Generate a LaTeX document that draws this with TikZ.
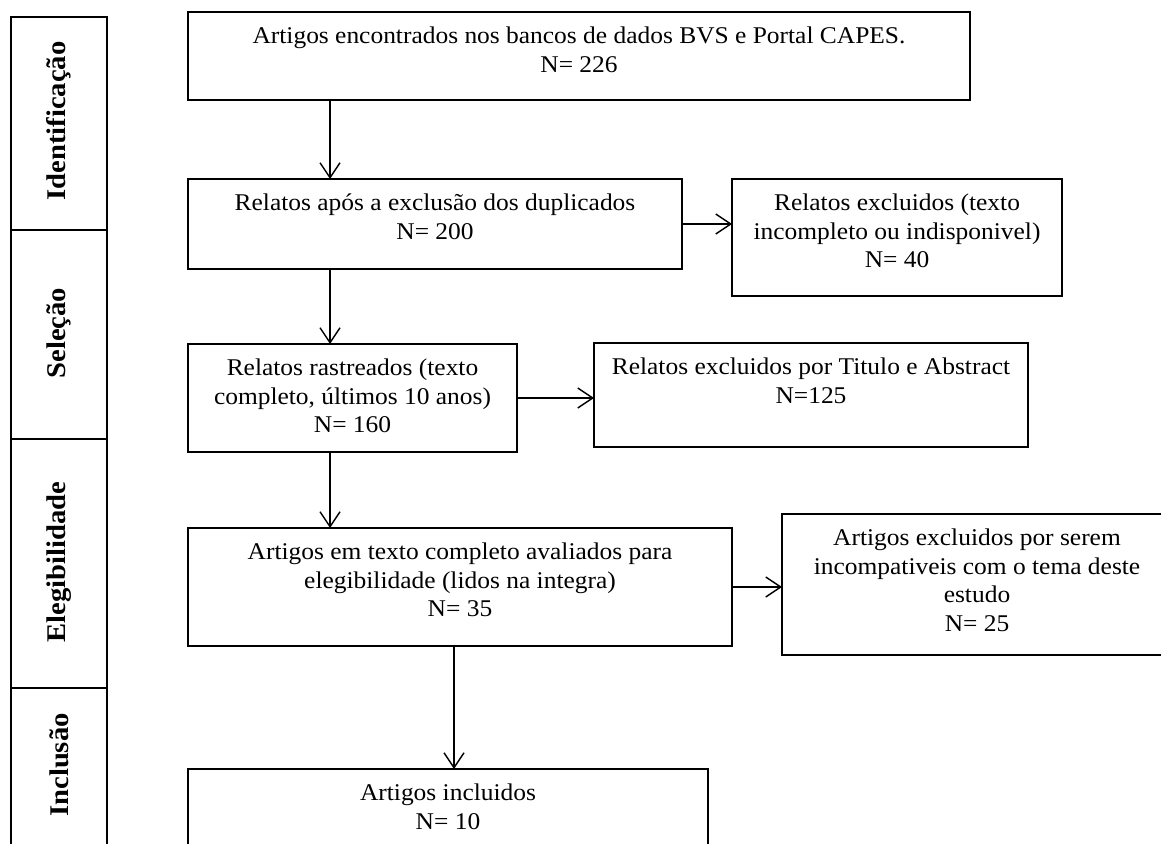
\documentclass[tikz,border=0pt]{standalone}
\usepackage{fontspec}
\setmainfont[FakeStretch=1.06]{Liberation Serif}
\usetikzlibrary{arrows.meta}
\begin{document}
\begin{tikzpicture}[x=1pt,y=-1pt,
  box/.style={draw=black, line width=1.6pt, anchor=north west, inner sep=0pt, outer sep=0pt},
  txt/.style={anchor=north, align=center, inner sep=0pt, font=\fontsize{24}{28.5}\selectfont},
  stagebox/.style={draw=black, line width=1.6pt, anchor=north west, inner sep=0pt, outer sep=0pt, minimum width=96pt},
  stagetxt/.style={rotate=90, inner sep=0pt, font=\fontsize{27}{30}\selectfont\bfseries},
  arr/.style={line width=1.4pt, -{Straight Barb[length=15pt,width=20pt,line width=1.4pt]}}
]
\useasboundingbox (0,0) rectangle (1161,843);
\clip (0,0) rectangle (1161,843);

% stage column
\node[stagebox, minimum height=213pt] (S1) at (11,17) {};
\node[stagebox, minimum height=209pt] (S2) at (11,230) {};
\node[stagebox, minimum height=249pt] (S3) at (11,439) {};
\node[stagebox, minimum height=200pt] (S4) at (11,688) {};
\node[stagetxt] (S1t) at (59,121) {Identificação};
\node[stagetxt] (S2t) at (59,333) {Seleção};
\node[stagetxt] (S3t) at (59,562) {Elegibilidade};
\node[stagetxt] (S4t) at (59,765) {Inclusão};

% boxes
\node[box, minimum width=782pt, minimum height=88pt] (A) at (188,12) {};
\node[box, minimum width=494pt, minimum height=90pt] (B) at (188,179) {};
\node[box, minimum width=330pt, minimum height=117pt] (C) at (732,179) {};
\node[box, minimum width=329pt, minimum height=108pt] (D) at (188,344) {};
\node[box, minimum width=434pt, minimum height=104pt] (E) at (594,343) {};
\node[box, minimum width=544pt, minimum height=118pt] (F) at (188,528) {};
\node[box, minimum width=390pt, minimum height=141pt] (G) at (782,514) {};
\node[box, minimum width=520pt, minimum height=120pt] (H) at (188,769) {};

% texts
\node[txt] (At) at ([yshift=-15pt]A.north) {Artigos encontrados nos bancos de dados BVS e Portal CAPES.\\N= 226};
\node[txt] (Bt) at ([yshift=-15pt]B.north) {Relatos após a exclusão dos duplicados\\N= 200};
\node[txt] (Ct) at ([yshift=-15pt]C.north) {Relatos excluidos (texto\\incompleto ou indisponivel)\\N= 40};
\node[txt] (Dt) at ([yshift=-15pt]D.north) {Relatos rastreados (texto\\completo, últimos 10 anos)\\N= 160};
\node[txt] (Et) at ([yshift=-15pt]E.north) {Relatos excluidos por Titulo e Abstract\\N=125};
\node[txt] (Ft) at ([yshift=-15pt]F.north) {Artigos em texto completo avaliados para\\elegibilidade (lidos na integra)\\N= 35};
\node[txt] (Gt) at ([yshift=-15pt]G.north) {Artigos excluidos por serem\\incompativeis com o tema deste\\estudo\\N= 25};
\node[txt] (Ht) at ([yshift=-15pt]H.north) {Artigos incluidos\\N= 10};

% connectors
\draw[arr] ([xshift=142pt]A.south west) -- ([xshift=142pt]B.north west);
\draw[arr] (B.east) -- (B.east -| C.west);
\draw[arr] ([xshift=142pt]B.south west) -- ([xshift=142pt]D.north west);
\draw[arr] (D.east) -- (D.east -| E.west);
\draw[arr] ([xshift=142pt]D.south west) -- ([xshift=142pt]F.north west);
\draw[arr] (F.east) -- (F.east -| G.west);
\draw[arr] ([xshift=266pt]F.south west) -- ([xshift=266pt]H.north west);
\end{tikzpicture}
\end{document}
